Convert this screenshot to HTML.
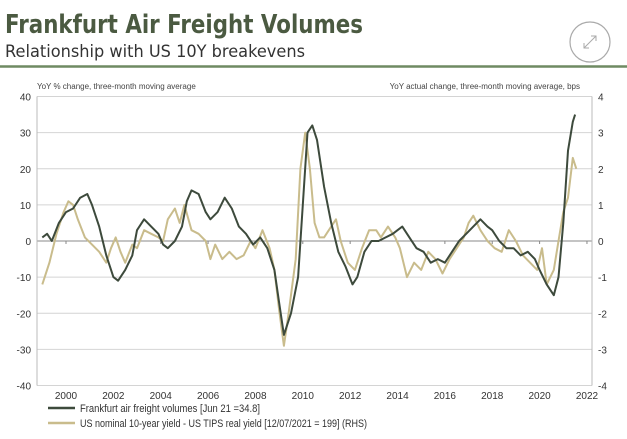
<!DOCTYPE html>
<html><head><meta charset="utf-8"><style>
body{margin:0;width:627px;height:439px;background:#fff;overflow:hidden;font-family:"Liberation Sans","DejaVu Sans",sans-serif;}
</style></head><body>
<svg width="627" height="439" style="position:absolute;left:0;top:0">
<text x="5" y="33" font-size="26" font-weight="bold" fill="#4b5a41" font-family="DejaVu Sans, sans-serif" textLength="358" lengthAdjust="spacingAndGlyphs">Frankfurt Air Freight Volumes</text>
<text x="5" y="57" font-size="17" fill="#333" font-family="DejaVu Sans, sans-serif" textLength="300" lengthAdjust="spacingAndGlyphs">Relationship with US 10Y breakevens</text>
<line x1="0" y1="66.5" x2="627" y2="66.5" stroke="#6f8a62" stroke-width="2.5"/>
<g>
<circle cx="590" cy="42" r="20" fill="none" stroke="#aaa" stroke-width="1.2"/>
<path d="M584 48 L596 36 M591 36 L596 36 L596 41 M584 43 L584 48 L589 48" fill="none" stroke="#aaa" stroke-width="1"/>
</g>
<text x="37" y="89" font-size="8" fill="#444">YoY % change, three-month moving average</text>
<text x="580" y="89" font-size="8" fill="#444" text-anchor="end">YoY actual change, three-month moving average, bps</text>
<g id="grid"></g><g id="axes"></g><g id="series"></g>
<g>
<line x1="48" y1="408" x2="75" y2="408" stroke="#3d4a3c" stroke-width="2.5"/>
<text x="80" y="412" font-size="11" fill="#333" textLength="180" lengthAdjust="spacingAndGlyphs">Frankfurt air freight volumes [Jun 21 =34.8]</text>
<line x1="48" y1="423" x2="75" y2="423" stroke="#c9bc8c" stroke-width="2.5"/>
<text x="80" y="427" font-size="11" fill="#333" textLength="287" lengthAdjust="spacingAndGlyphs">US nominal 10-year yield - US TIPS real yield [12/07/2021 = 199] (RHS)</text>
</g>
</svg>
<script>
const leftTicks=[40,30,20,10,0,-10,-20,-30,-40];
const rightTicks=[4,3,2,1,0,-1,-2,-3,-4];
const yearTicks=[2000,2002,2004,2006,2008,2010,2012,2014,2016,2018,2020,2022];
const freightT=[1999.0,1999.2,1999.4,1999.7,2000.0,2000.3,2000.6,2000.9,2001.1,2001.4,2001.7,2002.0,2002.2,2002.5,2002.8,2003.0,2003.3,2003.6,2003.9,2004.1,2004.3,2004.6,2004.9,2005.1,2005.3,2005.6,2005.9,2006.1,2006.4,2006.7,2007.0,2007.3,2007.6,2007.9,2008.2,2008.5,2008.8,2009.0,2009.2,2009.5,2009.8,2010.0,2010.2,2010.4,2010.6,2010.9,2011.2,2011.5,2011.8,2012.1,2012.3,2012.6,2012.9,2013.2,2013.5,2013.8,2014.0,2014.2,2014.5,2014.8,2015.1,2015.4,2015.7,2016.0,2016.3,2016.6,2016.9,2017.2,2017.5,2017.8,2018.0,2018.3,2018.6,2018.9,2019.2,2019.5,2019.8,2020.0,2020.3,2020.6,2020.8,2021.0,2021.2,2021.4,2021.5];
const freightV=[1,2,0,5,8,9,12,13,10,4,-4,-10,-11,-8,-4,3,6,4,2,-1,-2,0,4,11,14,13,8,6,8,12,9,4,2,-1,1,-2,-8,-17,-26,-20,-10,10,30,32,28,15,5,-3,-7,-12,-10,-3,0,0,1,2,3,4,1,-2,-3,-6,-5,-6,-3,0,2,4,6,4,3,0,-2,-2,-4,-3,-5,-8,-12,-15,-10,5,25,33,35];
const beT=[1999.0,1999.3,1999.6,1999.9,2000.1,2000.3,2000.5,2000.8,2001.1,2001.4,2001.7,2001.9,2002.1,2002.3,2002.5,2002.8,2003.0,2003.3,2003.6,2003.9,2004.1,2004.3,2004.6,2004.8,2005.0,2005.3,2005.6,2005.9,2006.1,2006.3,2006.6,2006.9,2007.2,2007.5,2007.8,2008.0,2008.3,2008.6,2008.8,2009.0,2009.2,2009.4,2009.7,2009.9,2010.1,2010.3,2010.5,2010.7,2010.9,2011.1,2011.4,2011.6,2011.9,2012.2,2012.5,2012.8,2013.1,2013.3,2013.6,2013.9,2014.1,2014.4,2014.7,2015.0,2015.3,2015.6,2015.9,2016.2,2016.5,2016.8,2017.0,2017.2,2017.5,2017.8,2018.1,2018.4,2018.7,2019.0,2019.3,2019.6,2019.9,2020.1,2020.3,2020.6,2020.8,2021.0,2021.2,2021.4,2021.55];
const beV=[-1.2,-0.6,0.2,0.8,1.1,1.0,0.6,0.1,-0.1,-0.3,-0.6,-0.2,0.1,-0.3,-0.6,-0.1,-0.2,0.3,0.2,0.1,0.0,0.6,0.9,0.5,1.0,0.3,0.2,0.0,-0.5,-0.1,-0.5,-0.3,-0.5,-0.4,0.0,-0.2,0.3,-0.2,-0.8,-1.9,-2.9,-2.0,-0.5,2.0,3.0,2.0,0.5,0.1,0.1,0.3,0.6,0.0,-0.6,-0.8,-0.2,0.3,0.3,0.1,0.4,0.1,-0.2,-1.0,-0.6,-0.8,-0.3,-0.5,-0.9,-0.5,-0.2,0.1,0.5,0.7,0.3,0.0,-0.2,-0.3,0.3,0.0,-0.4,-0.6,-0.8,-0.2,-1.2,-0.8,0.0,0.8,1.2,2.3,2.0];
const NS='http://www.w3.org/2000/svg';
const X0=37,X1=592;
function x(yr){return 66+(yr-2000)*23.68;}
function yL(v){return 241-v*3.6125;}
function yR(v){return 241-v*36.125;}
function mk(tag,attrs,parent,txt){const e=document.createElementNS(NS,tag);for(const k in attrs)e.setAttribute(k,attrs[k]);if(txt!=null)e.textContent=txt;parent.appendChild(e);return e;}
const grid=document.getElementById('grid'),axes=document.getElementById('axes'),ser=document.getElementById('series');
leftTicks.forEach(v=>{
  const l=mk('line',{x1:X0,x2:X1,y1:yL(v),y2:yL(v),stroke:v===0?'#888':'#d4d4d4','stroke-width':1},grid);
  
  
  const t=mk('text',{x:31,y:yL(v)+4,'font-size':10,fill:'#333','text-anchor':'end'},axes,String(v));
  
  
});
rightTicks.forEach(v=>{
  const t=mk('text',{x:598,y:yR(v)+4,'font-size':10,fill:'#333'},axes,String(v));
  
  
});
const la=mk('line',{x1:X0,x2:X0,y1:yL(40),y2:yL(-40),stroke:'#bbb'},axes);


const ra=mk('line',{x1:X1,x2:X1,y1:yL(40),y2:yL(-40),stroke:'#bbb'},axes);


yearTicks.forEach(yr=>{
  const t=mk('text',{x:x(yr),y:399,'font-size':10,fill:'#333','text-anchor':'middle'},axes,String(yr));
  
  
  const tk=mk('line',{x1:x(yr),x2:x(yr),y1:241,y2:244,stroke:'#888'},axes);
  
  
});
function path(ts,vs,yf){return ts.map((t,i)=>(i?'L':'M')+x(t).toFixed(1)+' '+yf(vs[i]).toFixed(1)).join(' ');}
const pb=mk('path',{d:path(beT,beV,yR),fill:'none',stroke:'#c9bc8c','stroke-width':2,'stroke-linejoin':'round'},ser);


const pf=mk('path',{d:path(freightT,freightV,yL),fill:'none',stroke:'#3d4a3c','stroke-width':2,'stroke-linejoin':'round'},ser);


</script>
</body></html>
